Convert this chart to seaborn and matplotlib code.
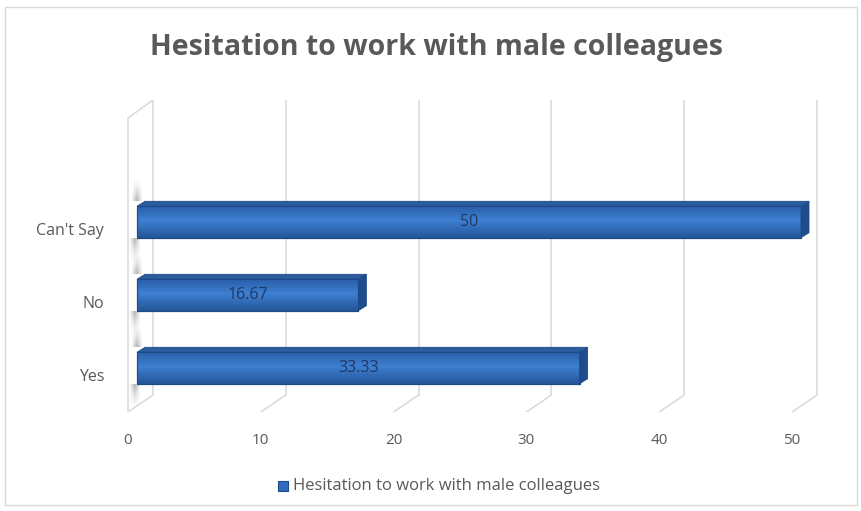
import matplotlib
matplotlib.use("Agg")
import matplotlib.pyplot as plt
import matplotlib.transforms as mtrans
from matplotlib.patches import Rectangle, Polygon
import numpy as np
import seaborn as sns
import pandas as pd

categories = ["Can't Say", "No", "Yes"]
values = [50, 16.67, 33.33]
value_labels = ["50", "16.67", "33.33"]
x_ticks = [0, 10, 20, 30, 40, 50]
title = "Hesitation to work with male colleagues"
series_name = "Hesitation to work with male colleagues"

sns.set_theme(style="white")
plt.rcParams['font.family'] = ['Open Sans', 'DejaVu Sans']

W, H = 862, 511
DPI = 100
fig = plt.figure(figsize=(W / DPI, H / DPI), dpi=DPI)
fig.patch.set_facecolor("white")

# layout (pixels): data 0 at x=137, 13.28 px per unit; plot top y=100, bottom y=412
zero_px, ppu = 137, 13.28
ax_left_px, ax_right_px = 118, 822
top_px, bot_px = 100, 412
xlo = (ax_left_px - zero_px) / ppu
xhi = (ax_right_px - zero_px) / ppu
ax = fig.add_axes([ax_left_px / W, 1 - bot_px / H, (ax_right_px - ax_left_px) / W, (bot_px - top_px) / H])

base = "#2F6CBF"
edge = "#1F4A86"
df = pd.DataFrame({"cat": categories, "val": values})
sns.barplot(data=df, x="val", y="cat", orient="h", order=categories, color=base,
            edgecolor=edge, linewidth=0.8, width=0.43, saturation=1, ax=ax, zorder=3)

cat_px = 73.0
ylo = -(222 - top_px) / cat_px
yhi = 2 + (bot_px - 368) / cat_px
for s in ax.spines.values():
    s.set_visible(False)
ax.set_xlabel("")
ax.set_ylabel("")

# 3D-ish gridlines and wall
grid_c = "#D9D9D9"
back_dx = 16 / ppu
front_dx = -9 / ppu
ax_h_px = bot_px - top_px
y_back = 17 / ax_h_px
xt = ax.get_xaxis_transform()
for v in x_ticks:
    ax.plot([v + back_dx, v + back_dx], [1, y_back], transform=xt, color=grid_c, lw=1.1, zorder=1)
    ax.plot([v + back_dx, v + front_dx], [y_back, 0], transform=xt, color=grid_c, lw=1.1, zorder=1)
ax.plot([front_dx, front_dx], [0, 1 - 18 / ax_h_px], transform=xt, color=grid_c, lw=1.1, zorder=1)
ax.plot([front_dx, back_dx], [1 - 18 / ax_h_px, 1], transform=xt, color=grid_c, lw=1.1, zorder=1)

# gradient and 3D faces on bars
dx = 8 / ppu
dy = 5 / cat_px
c_top = np.array([0x2A, 0x5E, 0xAA]) / 255
c_mid = np.array([0x3E, 0x80, 0xD2]) / 255
c_bot = np.array([0x24, 0x55, 0x98]) / 255
n = 64
t = np.linspace(0, 1, n)
cols = np.zeros((n, 1, 3))
for i, tt in enumerate(t):
    if tt < 0.45:
        f = tt / 0.45
        cols[i, 0] = c_top * (1 - f) + c_mid * f
    else:
        f = (tt - 0.45) / 0.55
        cols[i, 0] = c_mid * (1 - f) + c_bot * f

# soft wall shadow: 2D gradient (fades away from bar and sideways)
nx = 16
sh = np.zeros((n, nx, 4))
sh[..., :3] = 0.45
xx = np.linspace(0, 1, nx)
horiz = np.clip(1 - np.abs(xx - 0.5) / 0.6, 0, 1)

for p in list(ax.patches):
    x0, y0, w, h = p.get_x(), p.get_y(), p.get_width(), p.get_height()
    im = ax.imshow(cols, extent=[x0, x0 + w, y0 + h, y0], aspect="auto", zorder=3.2, interpolation="bilinear")
    im.set_clip_path(p)
    ax.add_patch(Rectangle((x0, y0), w, h, facecolor="none", edgecolor=edge, lw=0.8, zorder=3.4))
    ax.add_patch(Polygon([(x0, y0), (x0 + w, y0), (x0 + w + dx, y0 - dy), (x0 + dx, y0 - dy)],
                         closed=True, facecolor="#2B5C9F", edgecolor=edge, lw=0.6, zorder=3.3))
    ax.add_patch(Polygon([(x0 + w, y0), (x0 + w + dx, y0 - dy), (x0 + w + dx, y0 + h - dy), (x0 + w, y0 + h)],
                         closed=True, facecolor="#1F4C8C", edgecolor=edge, lw=0.6, zorder=3.3))
    # shadow above bar
    a_up = sh.copy()
    a_up[..., 3] = 0.55 * np.outer(np.linspace(1, 0, n) ** 1.3, horiz)
    ax.imshow(a_up, extent=[x0 - 5 / ppu, x0 + 5 / ppu, y0 - dy, y0 - dy - 22 / cat_px],
              origin="lower", aspect="auto", zorder=2, interpolation="bilinear")
    # shadow below bar
    a_dn = sh.copy()
    a_dn[..., 3] = 0.55 * np.outer(np.linspace(0, 1, n) ** 1.3, horiz)
    ax.imshow(a_dn, extent=[x0 - 7 / ppu, x0 + 3 / ppu, y0 + h + 24 / cat_px, y0 + h],
              origin="lower", aspect="auto", zorder=2, interpolation="bilinear")

ax.set_xlim(xlo, xhi)
ax.set_ylim(yhi, ylo)

# bar labels
for cont in ax.containers:
    ax.bar_label(cont, labels=value_labels, label_type="center", color="#203864", fontsize=11.5, zorder=5)

# ticks
ax.set_xticks(x_ticks)
ax.set_xticklabels([str(v) for v in x_ticks], color="#595959", fontsize=11)
ax.tick_params(axis="x", length=0, pad=15)
off = mtrans.ScaledTranslation(-9 / DPI, 0, fig.dpi_scale_trans)
for lab in ax.get_xticklabels():
    lab.set_transform(lab.get_transform() + off)
ax.set_yticks(range(len(categories)))
ax.set_yticklabels(categories, color="#595959", fontsize=11.5)
ax.tick_params(axis="y", length=0, pad=10)
offy = mtrans.ScaledTranslation(0, -7 / DPI, fig.dpi_scale_trans)
for lab in ax.get_yticklabels():
    lab.set_transform(lab.get_transform() + offy)

# title
fig.text(437 / W, 1 - 48 / H, title, ha="center", va="center", fontsize=20.5, fontweight="bold", color="#595959")

# legend
fig.patches.append(Rectangle((278 / W, 1 - 491 / H), 10 / W, 10 / H, transform=fig.transFigure,
                             facecolor=base, edgecolor=edge, lw=0.8))
fig.text(293 / W, 1 - 486 / H, series_name, ha="left", va="center", fontsize=12, color="#595959")

# chart border
fig.patches.append(Rectangle((5 / W, 6 / H), 852 / W, 498 / H, transform=fig.transFigure,
                             facecolor="none", edgecolor="#D9D9D9", lw=1))

fig.savefig("out.png", dpi=DPI)
